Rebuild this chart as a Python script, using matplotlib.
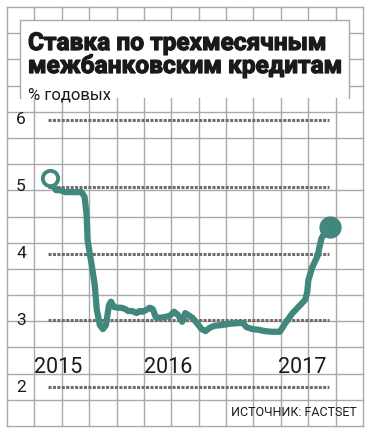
import matplotlib
matplotlib.use("Agg")
import matplotlib.pyplot as plt
import matplotlib.patheffects as pe
from matplotlib.patches import Rectangle
from matplotlib.lines import Line2D

# months since Jan 2015
months = [0.0, 0.3, 0.6, 1.0, 1.5, 2.5, 3.1, 3.4, 3.6, 3.7, 3.9, 4.1, 4.4, 4.6,
          4.9, 5.2, 5.5, 5.8, 6.0, 6.3, 6.7, 7.0, 7.4, 7.7, 8.1, 8.5, 8.8, 9.1,
          9.5, 9.8, 10.1, 10.4, 10.8, 11.3, 11.8, 12.2, 12.6, 13.0, 13.3, 13.6,
          14.0, 14.5, 14.9, 15.3, 15.7, 16.2, 16.9, 17.7, 18.5, 19.0, 19.3,
          19.9, 20.5, 21.1, 21.8, 22.6, 23.1, 23.8, 24.6, 25.1, 25.3, 25.4,
          25.8, 26.3, 26.5, 26.7, 27.0, 27.5]
rate = [5.13, 5.01, 4.95, 4.95, 4.92, 4.92, 4.92, 4.85, 4.58, 4.20, 4.01, 3.83,
        3.53, 3.16, 2.93, 2.87, 2.93, 3.23, 3.28, 3.20, 3.19, 3.19, 3.17, 3.14,
        3.14, 3.11, 3.14, 3.13, 3.16, 3.19, 3.17, 3.05, 3.04, 3.05, 3.07, 3.13,
        3.08, 2.98, 3.11, 3.08, 3.04, 2.95, 2.87, 2.84, 2.89, 2.92, 2.93, 2.95,
        2.96, 2.96, 2.90, 2.87, 2.86, 2.84, 2.83, 2.83, 2.95, 3.10, 3.23, 3.31,
        3.43, 3.60, 3.80, 3.96, 4.10, 4.23, 4.31, 4.40]

levels = [2, 3, 4, 5, 6]
years = ["2015", "2016", "2017"]
year_pos = [0.8, 11.6, 24.8]

teal = "#42877d"
paper = "#a9a9a9"
ink = "#1a1a1a"
W, H = 370, 434

fig = plt.figure(figsize=(W / 100, H / 100), dpi=100)

# graph paper background
bg = fig.add_axes([7 / W, 8 / H, 356 / W, 419 / H], zorder=0)
bg.set_xlim(0, 13)
bg.set_ylim(0, 16)
for i in range(14):
    bg.axvline(i, color=paper, lw=1.0, clip_on=False)
for j in range(17):
    bg.axhline(j, color=paper, lw=1.0, clip_on=False)
bg.axis("off")

# white title box
fig.patches.append(Rectangle((20 / W, 1 - 98 / H), 329 / W, 78 / H,
                             transform=fig.transFigure, facecolor="white",
                             edgecolor="none", zorder=1))
fig.lines.append(Line2D([20 / W, 20 / W, 349 / W, 349 / W],
                        [1 - 98 / H, 1 - 20 / H, 1 - 20 / H, 1 - 98 / H],
                        transform=fig.transFigure, color=paper, lw=1.0, zorder=1.5))

ax = fig.add_axes([0, 0, 1, 1], zorder=2)
ax.patch.set_alpha(0)
ax.set_xlim(-50 / 10.17, 320 / 10.17)
ax.set_ylim(6 - 314 / 66.8, 6 + 120 / 66.8)
ax.axis("off")

ax.hlines(levels, -0.2, 27.4, colors="#6e6e6e", lw=2.2, linestyles=(0, (1.0, 0.45)))
for v in levels:
    ax.text(-2.85, v, str(v), ha="center", va="center", fontsize=12.5,
            family=["Roboto"], color=ink)

ax.plot(months, rate, color=teal, lw=4.5, solid_capstyle="round",
        solid_joinstyle="round", zorder=3)
ax.plot(months[0], rate[0], "o", ms=11, mfc="white", mec=teal, mew=2.8, zorder=4)
ax.plot(months[-1], rate[-1], "o", ms=15, mfc=teal, mec=teal, zorder=4)

for lab, x in zip(years, year_pos):
    ax.text(x, 2.30, lab, ha="center", va="center", fontsize=15.5,
            family=["Roboto"], color=ink)

bold = [pe.withStroke(linewidth=0.9, foreground=ink)]
fig.text(28 / W, 1 - 50 / H, "Ставка по трехмесячным", fontsize=17.6,
         fontweight="bold", family=["Roboto"], color=ink, zorder=5,
         path_effects=bold)
fig.text(28 / W, 1 - 73 / H, "межбанковским кредитам", fontsize=17.6,
         fontweight="bold", family=["Roboto"], color=ink, zorder=5,
         path_effects=bold)
fig.text(28 / W, 1 - 99 / H, "% годовых", fontsize=12,
         family=["Roboto"], color=ink, zorder=5)
fig.text(357 / W, 1 - 412 / H, "ИСТОЧНИК: FACTSET", ha="right", va="center",
         fontsize=9, family=["Roboto"], color=ink, zorder=5)

fig.savefig("out.png", dpi=100)
